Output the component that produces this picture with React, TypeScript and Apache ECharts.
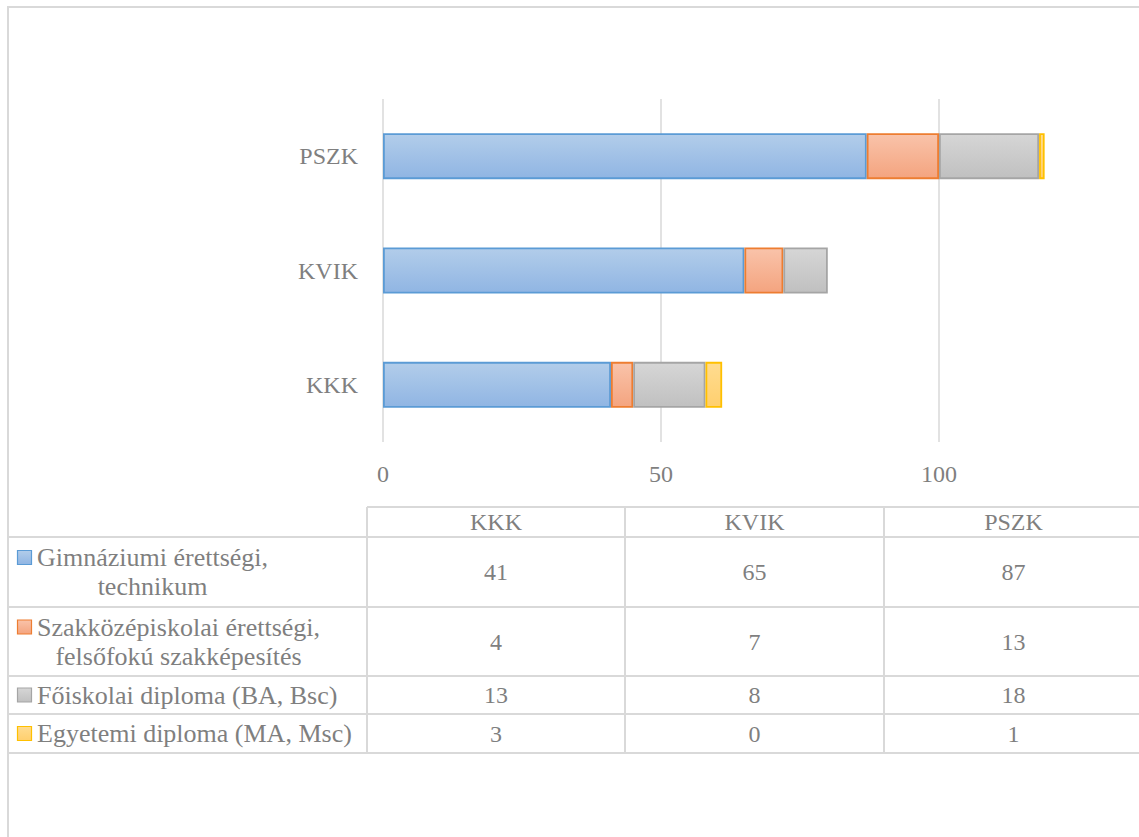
import React, { useEffect, useRef } from "react";
import * as echarts from "echarts";

const categories = ["KKK", "KVIK", "PSZK"];
const seriesLabels = [
  "Gimnáziumi érettségi,\ntechnikum",
  "Szakközépiskolai érettségi,\nfelsőfokú szakképesítés",
  "Főiskolai diploma (BA, Bsc)",
  "Egyetemi diploma (MA, Msc)",
];
const gimnaziumi = [41, 65, 87];
const szakkozep = [4, 7, 13];
const foiskolai = [13, 8, 18];
const egyetemi = [3, 0, 1];
const seriesValues = [gimnaziumi, szakkozep, foiskolai, egyetemi];

const palette = [
  { border: "#5B9BD5", top: "#B2CDEA", bottom: "#90B5E3" },
  { border: "#ED7D31", top: "#F9C3AA", bottom: "#F4A47F" },
  { border: "#A5A5A5", top: "#D6D6D6", bottom: "#C0C0C0" },
  { border: "#FFC000", top: "#FFDC90", bottom: "#FFCF6E" },
];

const FONT = "Liberation Serif";
const TEXT = "#7f7f7f";
const LINE = "#d9d9d9";
const FS = 24;
const FS_ROW = 26;
const CHART_W = 1300;

function grad(p: { top: string; bottom: string }) {
  return new echarts.graphic.LinearGradient(0, 0, 0, 1, [
    { offset: 0, color: p.top },
    { offset: 1, color: p.bottom },
  ]);
}

function measure(text: string, size: number): number {
  const c = document.createElement("canvas").getContext("2d");
  if (!c) return text.length * 11;
  c.font = `${size}px "${FONT}"`;
  return Math.max(...text.split("\n").map((l) => c.measureText(l).width));
}

export default function App() {
  const ref = useRef<HTMLDivElement>(null);
  useEffect(() => {
    if (!ref.current) return;
    const chart = echarts.init(ref.current, null, { renderer: "svg" });

    const colX = [367, 625, 884, 1160];
    const headTop = 507;
    const rowY = [537, 607, 676, 714, 753];
    const graphics: any[] = [];
    const txt = (text: string, x: number, y: number, size: number, extra: any = {}) => ({
      type: "text",
      x,
      y,
      style: {
        text,
        fill: TEXT,
        fontSize: size,
        fontFamily: FONT,
        align: "center",
        verticalAlign: "middle",
        ...extra,
      },
    });

    graphics.push({
      type: "rect",
      shape: { x: 8, y: 7, width: 1400, height: 900 },
      style: { fill: "none", stroke: LINE, lineWidth: 2 },
      silent: true,
    });
    graphics.push({
      type: "line",
      shape: { x1: colX[0], y1: headTop, x2: 1200, y2: headTop },
      style: { stroke: LINE, lineWidth: 2 },
    });
    rowY.forEach((y) =>
      graphics.push({
        type: "line",
        shape: { x1: 8, y1: y, x2: 1200, y2: y },
        style: { stroke: LINE, lineWidth: 2 },
      })
    );
    colX.slice(0, 3).forEach((x) =>
      graphics.push({
        type: "line",
        shape: { x1: x, y1: headTop, x2: x, y2: rowY[rowY.length - 1] },
        style: { stroke: LINE, lineWidth: 2 },
      })
    );
    const colCenter = (i: number) => (colX[i] + (i === 2 ? 1143 : colX[i + 1])) / 2;
    categories.forEach((c, i) =>
      graphics.push(txt(c, colCenter(i), (headTop + rowY[0]) / 2, FS))
    );
    seriesLabels.forEach((label, r) => {
      const yc = (rowY[r] + rowY[r + 1]) / 2;
      const lines = label.split("\n");
      const lh = 29;
      const firstY = yc - ((lines.length - 1) * lh) / 2;
      const w = measure(label, FS_ROW);
      graphics.push({
        type: "rect",
        shape: { x: 17.5, y: firstY - 7, width: 14, height: 14 },
        style: { fill: grad(palette[r]), stroke: palette[r].border, lineWidth: 1.2 },
      });
      graphics.push(txt(label, 37 + w / 2, yc, FS_ROW, { lineHeight: lh }));
      seriesValues[r].forEach((v, i) =>
        graphics.push(txt(String(v), colCenter(i), yc, FS))
      );
    });

    chart.setOption({
      animation: false,
      backgroundColor: "#ffffff",
      textStyle: { fontFamily: FONT },
      grid: { left: 383, top: 99, right: CHART_W - 383 - 834, bottom: 395, containLabel: false },
      xAxis: {
        type: "value",
        min: 0,
        max: 150,
        interval: 50,
        axisLine: { show: false },
        axisTick: { show: false },
        axisLabel: { color: TEXT, fontSize: FS, fontFamily: FONT, margin: 20, showMaxLabel: false },
        splitLine: { show: true, lineStyle: { color: LINE, width: 1.5 } },
      },
      yAxis: {
        type: "category",
        data: categories,
        axisLine: { show: false },
        axisTick: { show: false },
        axisLabel: { color: TEXT, fontSize: FS, fontFamily: FONT, margin: 25 },
        splitLine: { show: false },
      },
      series: seriesValues.map((vals, s) => ({
        type: "bar",
        name: seriesLabels[s].replace("\n", " "),
        stack: "total",
        barWidth: 46,
        itemStyle: {
          color: grad(palette[s]),
          borderColor: palette[s].border,
          borderWidth: 1.8,
        },
        data: vals.map((v) =>
          v === 0 ? { value: v, itemStyle: { borderWidth: 0 } } : v
        ),
      })),
      graphic: graphics,
    });
    return () => chart.dispose();
  }, []);
  return (
    <div
      style={{
        position: "fixed",
        left: 0,
        top: 0,
        width: 1139,
        height: 837,
        overflow: "hidden",
        background: "#fff",
      }}
    >
      <div ref={ref} style={{ width: CHART_W, height: 837 }} />
    </div>
  );
}
